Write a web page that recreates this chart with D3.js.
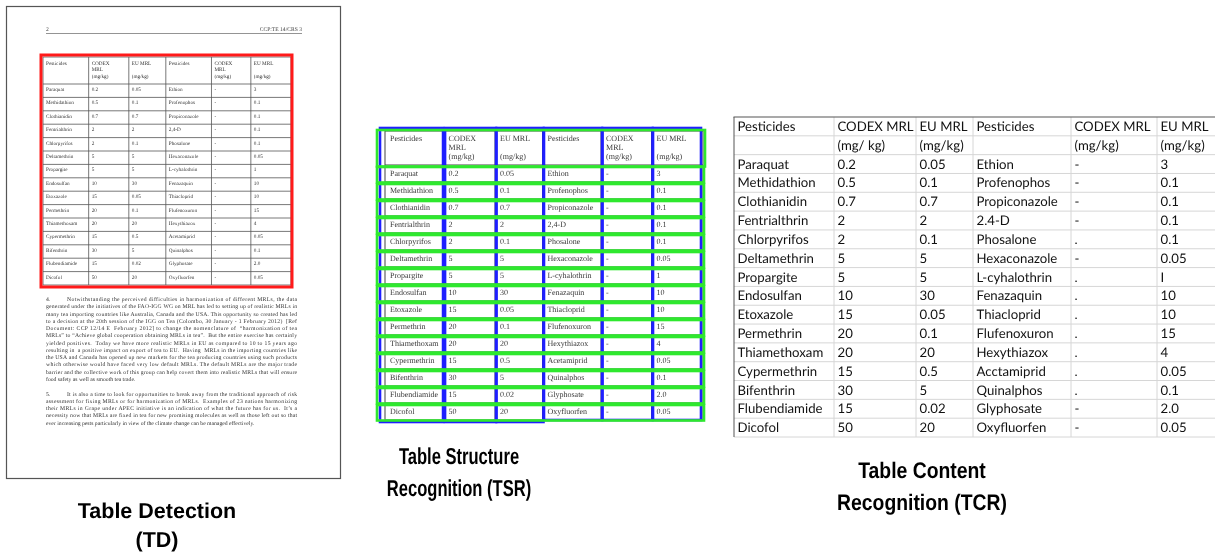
<!DOCTYPE html>
<html>
<head>
<meta charset="utf-8">
<script src="https://cdn.jsdelivr.net/npm/d3@7"></script>
<style>
  html, body { margin: 0; padding: 0; background: #fff; }
  svg { display: block; will-change: transform; }
  text { text-rendering: geometricPrecision; }
</style>
</head>
<body>
<div id="figure"></div>
<script>
// Table contents as printed in the scanned document
const pesticidesA = ["Paraquat", "Methidathion", "Clothianidin", "Fentrialthrin", "Chlorpyrifos", "Deltamethrin", "Propargite", "Endosulfan", "Etoxazole", "Permethrin", "Thiamethoxam", "Cypermethrin", "Bifenthrin", "Flubendiamide", "Dicofol"]
const codexA = ["0.2", "0.5", "0.7", "2", "2", "5", "5", "10", "15", "20", "20", "15", "30", "15", "50"]
const euA = ["0.05", "0.1", "0.7", "2", "0.1", "5", "5", "30", "0.05", "0.1", "20", "0.5", "5", "0.02", "20"]
const pesticidesB = ["Ethion", "Profenophos", "Propiconazole", "2,4-D", "Phosalone", "Hexaconazole", "L-cyhalothrin", "Fenazaquin", "Thiacloprid", "Flufenoxuron", "Hexythiazox", "Acetamiprid", "Quinalphos", "Glyphosate", "Oxyfluorfen"]
const codexB = ["-", "-", "-", "-", "-", "-", "-", "-", "-", "-", "-", "-", "-", "-", "-"]
const euB = ["3", "0.1", "0.1", "0.1", "0.1", "0.05", "1", "10", "10", "15", "4", "0.05", "0.1", "2.0", "0.05"]
const docHeader = [["Pesticides"], ["CODEX", "MRL", "(mg/kg)"], ["EU MRL", "", "(mg/kg)"], ["Pesticides"], ["CODEX", "MRL", "(mg/kg)"], ["EU MRL", "", "(mg/kg)"]]

// What the content recognition step read back (keeps its mistakes)
const tcrPesticidesB = ["Ethion", "Profenophos", "Propiconazole", "2.4-D", "Phosalone", "Hexaconazole", "L-cyhalothrin", "Fenazaquin", "Thiacloprid", "Flufenoxuron", "Hexythiazox", "Acctamiprid", "Quinalphos", "Glyphosate", "Oxyfluorfen"]
const tcrCodexB = ["-", "-", "-", "-", ".", "-", ".", ".", ".", ".", ".", ".", ".", "-", "-"]
const tcrEuB = ["3", "0.1", "0.1", "0.1", "0.1", "0.05", "I", "10", "10", "15", "4", "0.05", "0.1", "2.0", "0.05"]
const tcrHeader1 = ["Pesticides", "CODEX MRL", "EU MRL", "Pesticides", "CODEX MRL", "EU MRL"]
const tcrHeader2 = ["", "(mg/ kg)", "(mg/kg)", "", "(mg/kg)", "(mg/kg)"]

// Page text under the table
const para4 = [
  "Notwithstanding the perceived difficulties in harmonization of different MRLs, the data",
  "generated under the initiatives of the FAO-IGG WG on MRL has led to setting up of realistic MRLs in",
  "many tea importing countries like Australia, Canada and the USA. This opportunity so created has led",
  "to a decision at the 20th session of the IGG on Tea (Colombo, 30 January - 1 February 2012)  [Ref",
  "Document: CCP 12/14 E  February 2012] to change the nomenclature of  \u201charmonization of tea",
  "MRLs\u201d to \u201cAchieve global cooperation obtaining MRLs in tea\u201d.  But the entire exercise has certainly",
  "yielded positives.  Today we have more realistic MRLs in EU as compared to 10 to 15 years ago",
  "resulting in  a positive impact on export of tea to EU.  Having  MRLs in the importing countries like",
  "the USA and Canada has opened up new markets for the tea producing countries using such products",
  "which otherwise would have faced very low default MRLs. The default MRLs are the major trade",
  "barrier and the collective work of this group can help covert them into realistic MRLs that will ensure",
  "food safety as well as smooth tea trade."
]
const para5 = [
  "It is also a time to look for opportunities to break away from the traditional approach of risk",
  "assessment for fixing MRLs or for harmonization of MRLs.  Examples of 23 nations harmonizing",
  "their MRLs in Grape under APEC initiative is an indication of what the future has for us.  It\u2019s a",
  "necessity now that MRLs are fixed in tea for new promising molecules as well as those left out so that",
  "ever increasing pests particularly in view of the climate change can be managed effectively."
]

// caption text; squeeze = horizontal squeeze seen in each panel's caption
const captions = [
  { lines: ["Table Detection", "(TD)"], x: 157, y: 518, gap: 29, size: 21.5, squeeze: 1 },
  { lines: ["Table Structure", "Recognition (TSR)"], x: 459, y: 464, gap: 32, size: 23, squeeze: 0.72 },
  { lines: ["Table Content", "Recognition (TCR)"], x: 922, y: 478, gap: 32, size: 22.5, squeeze: 0.86 }
]

const width = 1215
const height = 560
const serif = "'Liberation Serif', 'Times New Roman', serif"

const svg = d3.select("#figure").append("svg")
  .attr("width", width)
  .attr("height", height)

svg.append("rect").attr("width", width).attr("height", height).attr("fill", "white")

// relative column widths of the scanned table
const docColWeights = [58, 51, 47, 58, 50, 51]
const docColumns = [pesticidesA, codexA, euA, pesticidesB, codexB, euB]

function columnEdges(weights, x0, x1) {
  let cum = [0].concat(Array.from(d3.cumsum(weights)))
  let x = d3.scaleLinear().domain([0, d3.sum(weights)]).range([x0, x1])
  return cum.map(x)
}

// Draws the scanned table (used in the page and in the TSR panel)
function drawDocTable(g, cfg) {
  let edges = columnEdges(docColWeights, cfg.x0, cfg.x1)
  let y = d3.scaleBand().domain(d3.range(pesticidesA.length)).range([cfg.head, cfg.bottom])

  g.append("rect")
    .attr("x", cfg.x0).attr("y", cfg.top)
    .attr("width", cfg.x1 - cfg.x0).attr("height", cfg.bottom - cfg.top)
    .attr("fill", "none").attr("stroke", cfg.line).attr("stroke-width", cfg.lw)

  g.selectAll("line.col").data(edges.slice(1, -1)).enter().append("line")
    .attr("x1", d => d).attr("x2", d => d)
    .attr("y1", cfg.top).attr("y2", cfg.bottom)
    .attr("stroke", cfg.line).attr("stroke-width", cfg.lw)

  g.selectAll("line.row").data(d3.range(pesticidesA.length)).enter().append("line")
    .attr("x1", cfg.x0).attr("x2", cfg.x1)
    .attr("y1", i => y(i)).attr("y2", i => y(i))
    .attr("stroke", cfg.line).attr("stroke-width", cfg.lw)

  docHeader.forEach(function(lines, c) {
    lines.forEach(function(t, k) {
      g.append("text")
        .attr("x", edges[c] + cfg.pad)
        .attr("y", cfg.top + cfg.headBase[k])
        .attr("font-family", serif).attr("font-size", cfg.fs).attr("fill", cfg.ink)
        .text(t)
    })
  })

  docColumns.forEach(function(col, c) {
    g.selectAll(null).data(col).enter().append("text")
      .attr("x", edges[c] + cfg.pad)
      .attr("y", (d, i) => y(i) + cfg.rowBase)
      .attr("font-family", serif).attr("font-size", cfg.fs).attr("fill", cfg.ink)
      .text(d => d)
  })

  return { edges: edges, y: y }
}

// ---- Panel 1: the document page with the detected table ----
let page = svg.append("g")

page.append("rect")
  .attr("x", 6.5).attr("y", 6.5).attr("width", 334).attr("height", 472)
  .attr("fill", "white").attr("stroke", "#555").attr("stroke-width", 1.2)

page.append("text").attr("x", 46).attr("y", 31)
  .attr("font-family", serif).attr("font-size", 5.6).attr("fill", "#444").text("2")
page.append("text").attr("x", 302).attr("y", 31).attr("text-anchor", "end")
  .attr("font-family", serif).attr("font-size", 5.6).attr("fill", "#444").text("CCP:TE 14/CRS 3")
page.append("line").attr("x1", 46).attr("x2", 302).attr("y1", 33.5).attr("y2", 33.5)
  .attr("stroke", "#666").attr("stroke-width", 0.7)

drawDocTable(page, {
  x0: 43, x1: 291, top: 57, head: 84, bottom: 285,
  fs: 5.2, pad: 3, ink: "#333", line: "#555", lw: 0.8,
  headBase: [7.5, 14.3, 21.3], rowBase: 7
})

page.append("rect")
  .attr("x", 41).attr("y", 55).attr("width", 251).attr("height", 232)
  .attr("fill", "none").attr("stroke", "#ff1a1a").attr("stroke-width", 3)

function drawParagraph(g, num, lines, y0) {
  let lead = 7.27
  let left = 46, right = 297, indent = 67
  g.append("text").attr("x", left).attr("y", y0)
    .attr("font-family", serif).attr("font-size", 5.7).attr("fill", "#333").text(num)
  lines.forEach(function(t, i) {
    let x = i == 0 ? indent : left
    let last = i == lines.length - 1
    let txt = g.append("text")
      .attr("x", x).attr("y", y0 + i * lead)
      .attr("font-family", serif).attr("font-size", 5.7).attr("fill", "#333")
      .attr("xml:space", "preserve")
      .text(t)
    if (!last) txt.attr("textLength", right - x).attr("lengthAdjust", "spacing")
  })
}

drawParagraph(page, "4.", para4, 301)
drawParagraph(page, "5.", para5, 395.5)

// ---- Panel 2: table structure recognition ----
let tsr = svg.append("g")
let tsrTable = drawDocTable(tsr, {
  x0: 385, x1: 703, top: 131, head: 165, bottom: 420,
  fs: 8, pad: 5, ink: "#3a3a3a", line: "#444", lw: 1,
  headBase: [10, 18.6, 28], rowBase: 10.5
})

// detected columns
let ed = tsrTable.edges
tsr.selectAll("rect.colbox").data(d3.range(6)).enter().append("rect")
  .attr("class", "colbox")
  .attr("x", i => ed[i] + (i == 0 ? -5 : 1.5))
  .attr("y", 128)
  .attr("width", i => ed[i + 1] - ed[i] + (i == 0 ? 5 : 0) + (i == 5 ? -3.5 : -0.5))
  .attr("height", i => i < 3 ? 294 : 292)
  .attr("fill", "none").attr("stroke", "#1f1fff").attr("stroke-width", 2.6)

// detected rows
let ry = tsrTable.y
tsr.append("rect")
  .attr("x", 377).attr("y", 130).attr("width", 328).attr("height", 36.5)
  .attr("fill", "none").attr("stroke", "#2ee82e").attr("stroke-width", 2.6)
tsr.selectAll("rect.rowbox").data(d3.range(pesticidesA.length)).enter().append("rect")
  .attr("class", "rowbox")
  .attr("x", 377).attr("y", i => ry(i) + 2)
  .attr("width", 327).attr("height", ry.bandwidth() - 1.5)
  .attr("fill", "none").attr("stroke", "#2ee82e").attr("stroke-width", 2.6)

// ---- Panel 3: table content recognition ----
let tcr = svg.append("g")
const tcrColWeights = [100, 82, 57, 98, 86, 60]
const tcrColumns = [pesticidesA, codexA, euA, tcrPesticidesB, tcrCodexB, tcrEuB]
let tx = columnEdges(tcrColWeights, 734, 1217)
let ty = d3.scaleBand().domain(d3.range(pesticidesA.length + 2)).range([117, 437])

tcr.selectAll("line.row").data(d3.range(1, pesticidesA.length + 3)).enter().append("line")
  .attr("x1", 734).attr("x2", width)
  .attr("y1", i => i < 17 ? ty(i) : 437).attr("y2", i => i < 17 ? ty(i) : 437)
  .attr("stroke", "#d6d6d6").attr("stroke-width", 1)

tcr.selectAll("line.col").data(tx.slice(1, -1)).enter().append("line")
  .attr("x1", d => d).attr("x2", d => d).attr("y1", 117).attr("y2", 437)
  .attr("stroke", "#d6d6d6").attr("stroke-width", 1)

tcr.append("line").attr("x1", 733.5).attr("x2", width).attr("y1", 117).attr("y2", 117)
  .attr("stroke", "#555").attr("stroke-width", 1.2)
tcr.append("line").attr("x1", 734).attr("x2", 734).attr("y1", 117).attr("y2", 437)
  .attr("stroke", "#555").attr("stroke-width", 1)

function tcrRow(values, r) {
  tcr.selectAll(null).data(values).enter().append("text")
    .attr("x", (d, c) => tx[c] + 3.5)
    .attr("y", ty(r) + ty.bandwidth() / 2 + 4.6)
    .attr("font-family", "Lato, 'Open Sans', sans-serif").attr("font-size", 13.2).attr("fill", "#111")
    .text(d => d)
}

tcrRow(tcrHeader1, 0)
tcrRow(tcrHeader2, 1)
pesticidesA.forEach(function(p, i) {
  tcrRow(tcrColumns.map(col => col[i]), i + 2)
})

// ---- Captions ----
captions.forEach(function(cap) {
  cap.lines.forEach(function(t, k) {
    let txt = svg.append("text")
      .attr("x", cap.x).attr("y", cap.y + k * cap.gap)
      .attr("text-anchor", "middle")
      .attr("font-family", "'Liberation Sans', Arial, sans-serif")
      .attr("font-weight", "bold").attr("font-size", cap.size).attr("fill", "#000")
      .text(t)
    if (cap.squeeze != 1) {
      let natural = txt.node().getComputedTextLength()
      txt.attr("textLength", natural * cap.squeeze).attr("lengthAdjust", "spacingAndGlyphs")
    }
  })
})
</script>
</body>
</html>
